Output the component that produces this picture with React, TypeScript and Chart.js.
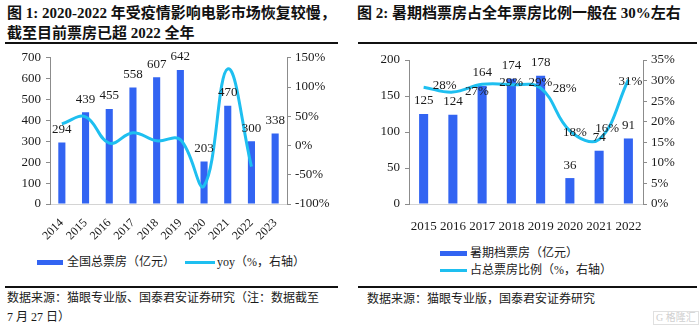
import React, { useEffect, useRef } from "react";
import { Chart, registerables } from "chart.js";
Chart.register(...registerables);

// ---------- data ----------
const years1 = ["2014", "2015", "2016", "2017", "2018", "2019", "2020", "2021", "2022", "2023"];
const boxOffice = [294, 439, 455, 558, 607, 642, 203, 470, 300, 338];
const yoy = [37, 49, 4, 22, 8, 10, -69, 131, -36, null];

const years2 = ["2015", "2016", "2017", "2018", "2019", "2020", "2021", "2022"];
const summerBox = [125, 124, 164, 174, 178, 36, 74, 91];
const summerShare = [28.4, 27.2, 29.1, 29.0, 28.2, 17.8, 15.7, 30.2];
const summerShareLabels = ["28%", "27%", "29%", "29%", "28%", "18%", "16%", "31%"];

// ---------- styles ----------
const BLUE = "#3264f2";
const CYAN = "#1ebff0";
const AXIS = "#8c8c8c";
const SERIF = '"Liberation Serif", "Times New Roman", serif';
const MIXED = '"Liberation Serif", "Noto Sans CJK SC", serif';
const shareLabelOffsets = [[21, -2], [24, -1], [29, -2], [29, -2], [24, 1], [5, 2], [8, -11], [2, 2]];

const barLabelPlugin = {
  id: "barLabels",
  afterDatasetsDraw(chart: any, _args: any, opts: any) {
    const ctx = chart.ctx;
    ctx.save();
    ctx.font = `13px ${SERIF}`;
    ctx.fillStyle = "#1a1a1a";
    ctx.textAlign = "center";
    ctx.textBaseline = "middle";
    chart.data.datasets.forEach((ds: any, di: number) => {
      if (ds.type !== "bar") return;
      const meta = chart.getDatasetMeta(di);
      meta.data.forEach((el: any, i: number) => {
        ctx.fillText(String(ds.data[i]), el.x, el.y - 13);
      });
    });
    if (opts && opts.shareLabels) {
      chart.data.datasets.forEach((ds: any, di: number) => {
        if (ds.type !== "line") return;
        const meta = chart.getDatasetMeta(di);
        meta.data.forEach((el: any, i: number) => {
          const off = shareLabelOffsets[i];
          ctx.fillText(summerShareLabels[i], el.x + off[0], el.y + off[1]);
        });
      });
    }
    ctx.restore();
  },
};

const yAxisCommon = {
  grid: { drawOnChartArea: false, drawTicks: true, tickLength: 4, color: AXIS, lineWidth: 1 },
  border: { display: true, color: AXIS, width: 1 },
};

export default function App() {
  const c1 = useRef<HTMLCanvasElement>(null);
  const c2 = useRef<HTMLCanvasElement>(null);

  useEffect(() => {
    Chart.defaults.font.family = SERIF;
    Chart.defaults.font.size = 13;
    Chart.defaults.color = "#1a1a1a";

    const chart1 = new Chart(c1.current!, {
      type: "bar",
      data: {
        labels: years1,
        datasets: [
          {
            type: "line",
            label: "yoy（%，右轴）",
            data: yoy as any,
            yAxisID: "y1",
            borderColor: CYAN,
            borderWidth: 3,
            pointRadius: 0,
            tension: 0.4,
            order: 0,
            spanGaps: false,
          } as any,
          {
            type: "bar",
            label: "全国总票房（亿元）",
            data: boxOffice,
            yAxisID: "y",
            backgroundColor: BLUE,
            barPercentage: 0.3,
            categoryPercentage: 1,
            order: 1,
          } as any,
        ],
      },
      options: {
        animation: false,
        responsive: false,
        maintainAspectRatio: false,
        layout: { padding: { top: 12, left: 0, right: 0, bottom: 0 } },
        plugins: { legend: { display: false }, tooltip: { enabled: false } },
        scales: {
          x: {
            grid: { display: false },
            border: { display: true, color: "#d4d4d4" },
            ticks: { autoSkip: false, maxRotation: 45, minRotation: 45, padding: 4, font: { size: 12, family: SERIF } },
            afterFit: (s: any) => { s.height = 36; },
          },
          y: {
            ...yAxisCommon,
            position: "left",
            min: 0,
            max: 700,
            ticks: { stepSize: 100, padding: 5 },
            afterFit: (s: any) => { s.width = 50; },
          },
          y1: {
            ...yAxisCommon,
            position: "right",
            min: -100,
            max: 150,
            ticks: { stepSize: 50, padding: 4, callback: (v: any) => `${v}%` },
            afterFit: (s: any) => { s.width = 53; },
          },
        } as any,
      },
      plugins: [barLabelPlugin],
    } as any);

    const chart2 = new Chart(c2.current!, {
      type: "bar",
      data: {
        labels: years2,
        datasets: [
          {
            type: "line",
            label: "占总票房比例（%，右轴）",
            data: summerShare,
            yAxisID: "y1",
            borderColor: CYAN,
            borderWidth: 3,
            pointRadius: 0,
            tension: 0.4,
            order: 0,
          } as any,
          {
            type: "bar",
            label: "暑期档票房（亿元）",
            data: summerBox,
            yAxisID: "y",
            backgroundColor: BLUE,
            barPercentage: 0.31,
            categoryPercentage: 1,
            order: 1,
          } as any,
        ],
      },
      options: {
        animation: false,
        responsive: false,
        maintainAspectRatio: false,
        layout: { padding: { top: 15, left: 0, right: 0, bottom: 0 } },
        plugins: {
          legend: { display: false },
          tooltip: { enabled: false },
          barLabels: { shareLabels: true },
        } as any,
        scales: {
          x: {
            grid: { display: false },
            border: { display: true, color: "#d4d4d4" },
            ticks: { autoSkip: false, maxRotation: 0, minRotation: 0, padding: 7 },
            afterFit: (s: any) => { s.height = 26; },
          },
          y: {
            ...yAxisCommon,
            position: "left",
            min: 0,
            max: 200,
            ticks: { stepSize: 50, padding: 5 },
            afterFit: (s: any) => { s.width = 59; },
          },
          y1: {
            ...yAxisCommon,
            position: "right",
            min: 0,
            max: 35,
            ticks: { stepSize: 5, padding: 4, callback: (v: any) => `${v}%` },
            afterFit: (s: any) => { s.width = 57; },
          },
        } as any,
      },
      plugins: [barLabelPlugin],
    } as any);

    return () => {
      chart1.destroy();
      chart2.destroy();
    };
  }, []);

  const abs = (l: number, t: number, extra: any = {}) => ({ position: "absolute" as const, left: l, top: t, ...extra });
  const txt = { fontFamily: MIXED, fontSize: 12, color: "#1a1a1a", whiteSpace: "nowrap" as const, lineHeight: "14px" };
  const title = { fontFamily: MIXED, fontSize: 15, fontWeight: 700, color: "#111", whiteSpace: "nowrap" as const, lineHeight: "18px" };

  return (
    <div style={{ position: "absolute", left: 0, top: 0, width: 700, height: 331, background: "#fff", overflow: "hidden" }}>
      {/* Left panel */}
      <div style={{ ...abs(7, 4), ...title }}>图 1: 2020-2022 年受疫情影响电影市场恢复较慢，</div>
      <div style={{ ...abs(7, 24), ...title }}>截至目前票房已超 2022 全年</div>
      <div style={abs(5, 42, { width: 333, height: 2, background: "#111" })} />
      <canvas ref={c1} width={340} height={195} style={abs(0, 45, { width: 340, height: 195 })} />
      <div style={abs(37, 260, { width: 26, height: 5, background: BLUE })} />
      <div style={{ ...abs(67, 255), ...txt }}>全国总票房（亿元）</div>
      <div style={abs(185, 261, { width: 30, height: 3, background: CYAN })} />
      <div style={{ ...abs(217, 255), ...txt }}>yoy（%，右轴）</div>
      <div style={abs(5, 286, { width: 333, height: 2, background: "#111" })} />
      <div style={{ ...abs(7, 291), ...txt }}>数据来源：猫眼专业版、国泰君安证券研究（注：数据截至</div>
      <div style={{ ...abs(7, 310), ...txt }}>7 月 27 日）</div>

      {/* Right panel */}
      <div style={{ ...abs(357, 4), ...title }}>图 2: 暑期档票房占全年票房比例一般在 30%左右</div>
      <div style={abs(358, 42, { width: 339, height: 2, background: "#111" })} />
      <canvas ref={c2} width={350} height={185} style={abs(350, 45, { width: 350, height: 185 })} />
      <div style={abs(440, 251, { width: 27, height: 5, background: BLUE })} />
      <div style={{ ...abs(470, 246), ...txt }}>暑期档票房（亿元）</div>
      <div style={abs(440, 269, { width: 27, height: 3, background: CYAN })} />
      <div style={{ ...abs(470, 263), ...txt }}>占总票房比例（%，右轴）</div>
      <div style={abs(358, 286, { width: 339, height: 2, background: "#111" })} />
      <div style={{ ...abs(367, 292), ...txt }}>数据来源：猫眼专业版，国泰君安证券研究</div>
      <div style={{ ...abs(653, 311), fontFamily: MIXED, fontSize: 10, color: "#d0d0d0", border: "1px solid #e0e0e0", padding: "0 2px", lineHeight: "12px" }}>G 格隆汇</div>
    </div>
  );
}
